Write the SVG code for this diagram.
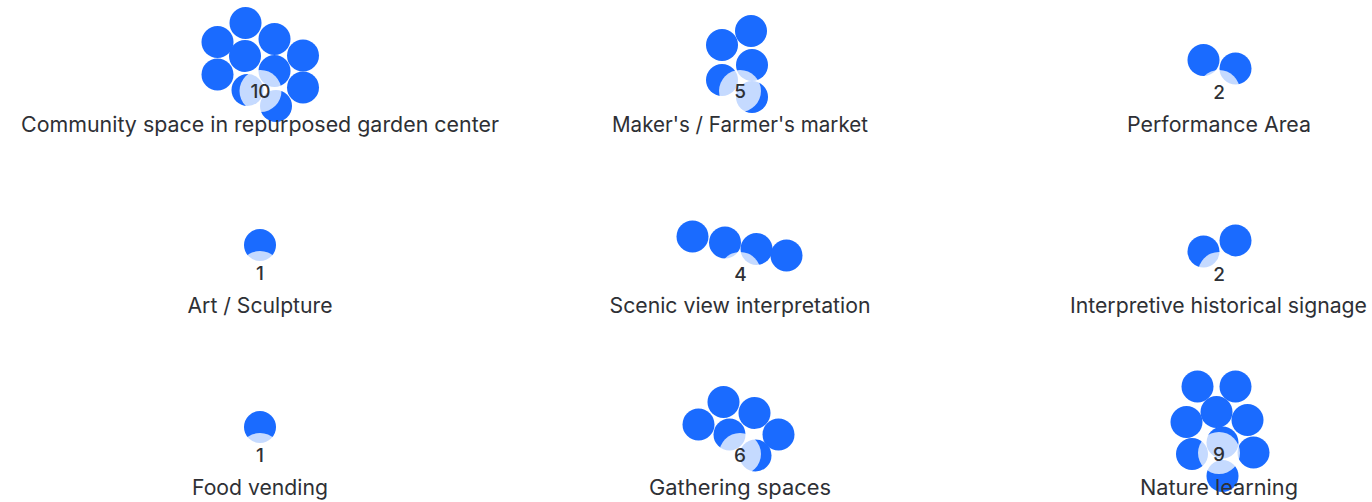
<svg xmlns="http://www.w3.org/2000/svg" width="1372" height="502" viewBox="0 0 1372 502">
<style>
.b{fill:#1a6bff}
.lb{fill:#ffffff;fill-opacity:0.75}
.n{font-family:Inter,"Liberation Sans",sans-serif;font-size:19px;font-weight:500;fill:#2e3035;text-anchor:middle}
.t{font-family:Inter,"Liberation Sans",sans-serif;font-size:21px;fill:#2e3035;text-anchor:middle}
</style>
<rect width="1372" height="502" fill="#ffffff"/>
<g id="community">
<circle class="b" cx="245.5" cy="23" r="16"/>
<circle class="b" cx="217.5" cy="42" r="16"/>
<circle class="b" cx="274.5" cy="39" r="16"/>
<circle class="b" cx="245" cy="56" r="16"/>
<circle class="b" cx="303" cy="55.5" r="16"/>
<circle class="b" cx="217.5" cy="74.5" r="16"/>
<circle class="b" cx="274.5" cy="71" r="16"/>
<circle class="b" cx="247.5" cy="90" r="16"/>
<circle class="b" cx="303" cy="87.5" r="16"/>
<circle class="b" cx="276" cy="106" r="16"/>
<circle class="lb" cx="260.5" cy="91" r="21"/>
<text class="n" x="260.5" y="98">10</text>
<text class="t" x="260" y="132" textLength="478" lengthAdjust="spacingAndGlyphs">Community space in repurposed garden center</text>
</g>
<g id="makers">
<circle class="b" cx="751" cy="31" r="16"/>
<circle class="b" cx="722" cy="45" r="16"/>
<circle class="b" cx="752" cy="65" r="16"/>
<circle class="b" cx="722" cy="80" r="16"/>
<circle class="b" cx="752" cy="97" r="16"/>
<circle class="lb" cx="740" cy="91" r="21"/>
<text class="n" x="740" y="98">5</text>
<text class="t" x="740" y="132" textLength="256" lengthAdjust="spacingAndGlyphs">Maker's / Farmer's market</text>
</g>
<g id="performance">
<circle class="b" cx="1203.5" cy="60" r="16"/>
<circle class="b" cx="1235.5" cy="68.5" r="16"/>
<circle class="lb" cx="1219" cy="91" r="21"/>
<text class="n" x="1219" y="99">2</text>
<text class="t" x="1219" y="132" textLength="184" lengthAdjust="spacingAndGlyphs">Performance Area</text>
</g>
<g id="art">
<circle class="b" cx="260" cy="245" r="16"/>
<circle class="lb" cx="260" cy="272" r="21"/>
<text class="n" x="260" y="279.5">1</text>
<text class="t" x="260" y="313" textLength="145" lengthAdjust="spacingAndGlyphs">Art / Sculpture</text>
</g>
<g id="scenic">
<circle class="b" cx="692.5" cy="236.5" r="16"/>
<circle class="b" cx="725" cy="242.5" r="16"/>
<circle class="b" cx="756.5" cy="249" r="16"/>
<circle class="b" cx="786.5" cy="255.5" r="16"/>
<circle class="lb" cx="740" cy="273" r="21"/>
<text class="n" x="740.5" y="280.5">4</text>
<text class="t" x="740" y="313" textLength="261" lengthAdjust="spacingAndGlyphs">Scenic view interpretation</text>
</g>
<g id="signage">
<circle class="b" cx="1203.5" cy="251.5" r="16"/>
<circle class="b" cx="1235.5" cy="240.5" r="16"/>
<circle class="lb" cx="1219" cy="273" r="21"/>
<text class="n" x="1219" y="280.5">2</text>
<text class="t" x="1218.5" y="313" textLength="297" lengthAdjust="spacingAndGlyphs">Interpretive historical signage</text>
</g>
<g id="food">
<circle class="b" cx="260" cy="427" r="16"/>
<circle class="lb" cx="260" cy="454" r="21"/>
<text class="n" x="260" y="461.5">1</text>
<text class="t" x="260" y="495" textLength="136" lengthAdjust="spacingAndGlyphs">Food vending</text>
</g>
<g id="gathering">
<circle class="b" cx="698.5" cy="424.5" r="16"/>
<circle class="b" cx="723.5" cy="402" r="16"/>
<circle class="b" cx="754.5" cy="413" r="16"/>
<circle class="b" cx="729.5" cy="434.5" r="16"/>
<circle class="b" cx="778.5" cy="434.5" r="16"/>
<circle class="b" cx="755.5" cy="455.5" r="16"/>
<circle class="lb" cx="740" cy="454" r="21"/>
<text class="n" x="740" y="461.5">6</text>
<text class="t" x="740" y="495" textLength="182" lengthAdjust="spacingAndGlyphs">Gathering spaces</text>
</g>
<g id="nature">
<circle class="b" cx="1197.5" cy="386.5" r="16"/>
<circle class="b" cx="1235.5" cy="386.5" r="16"/>
<circle class="b" cx="1216.5" cy="412" r="16"/>
<circle class="b" cx="1186.5" cy="422" r="16"/>
<circle class="b" cx="1247.5" cy="420" r="16"/>
<circle class="b" cx="1222.5" cy="442.5" r="16"/>
<circle class="b" cx="1192" cy="454" r="16"/>
<circle class="b" cx="1253.5" cy="452.5" r="16"/>
<circle class="b" cx="1222.5" cy="476" r="16"/>
<circle class="lb" cx="1219" cy="453" r="21"/>
<text class="n" x="1219" y="460.5">9</text>
<text class="t" x="1219" y="495" textLength="158" lengthAdjust="spacingAndGlyphs">Nature learning</text>
</g>
<g id="connectors"/>
</svg>
